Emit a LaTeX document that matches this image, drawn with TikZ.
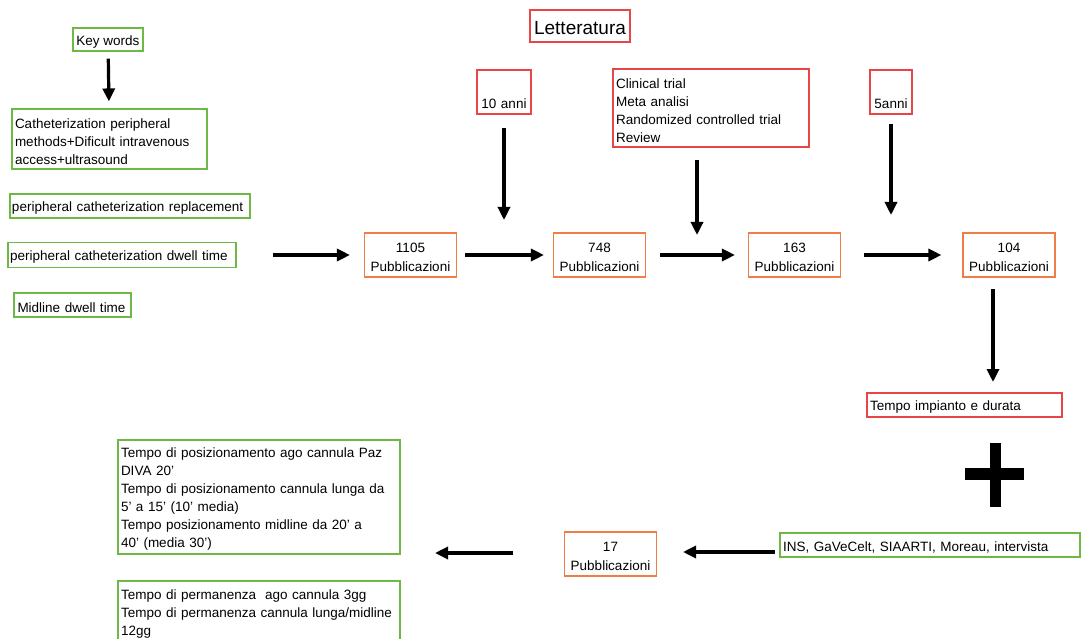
\documentclass[tikz,border=0pt]{standalone}
\usepackage{fontspec}
\setmainfont{Liberation Sans}
\usetikzlibrary{arrows.meta}
\definecolor{cgreen}{RGB}{110,185,70}
\definecolor{cred}{RGB}{232,70,70}
\definecolor{corange}{RGB}{238,125,70}
\begin{document}
\begin{tikzpicture}[x=1pt,y=-1pt,
  box/.style={draw,line width=1.1pt,inner sep=0pt,font=\fontsize{13.5}{18}\selectfont,align=center,text height=14.5pt},
  gbox/.style={box,draw=cgreen},
  rbox/.style={box,draw=cred},
  obox/.style={box,draw=corange,minimum width=92pt,minimum height=44pt,text width=90pt,align=center,font=\fontsize{13.5}{19}\selectfont},
  arr/.style={line width=3.2pt,-{Triangle[length=13pt,width=12pt]}}]
\useasboundingbox[fill=white] (0,0) rectangle (1082,639);

% left column
\node[gbox,minimum width=70pt,minimum height=23pt] (kw) at (108,39.5) {Key words};
\node[gbox,minimum width=195pt,minimum height=60pt,text width=189pt,align=left] (cath) at (109.5,139)
  {Catheterization peripheral\\methods+Dificult intravenous\\access+ultrasound};
\node[gbox,minimum width=240pt,minimum height=24pt,text width=236pt,align=left] (repl) at (130,206)
  {peripheral catheterization replacement};
\node[gbox,minimum width=228pt,minimum height=25pt,text width=224pt,align=left] (dwell) at (122,255)
  {peripheral catheterization dwell time};
\node[gbox,minimum width=117pt,minimum height=24pt,text width=110pt,align=left] (mid) at (72.5,305)
  {Midline dwell time};

% top row
\node[rbox,minimum width=100pt,minimum height=32pt,font=\fontsize{19}{22}\selectfont,text height=17pt] (lett) at (580,26) {Letteratura};
\node[rbox,minimum width=54pt,minimum height=44pt,text width=50pt,align=center] (ten) at (504,92) {\mbox{}\\10 anni};
\node[rbox,minimum width=196pt,minimum height=78pt,text width=190pt,align=left] (clin) at (711,108)
  {Clinical trial\\Meta analisi\\Randomized controlled trial\\Review};
\node[rbox,minimum width=42pt,minimum height=44pt,text width=40pt,align=center] (five) at (891,92) {\mbox{}\\5anni};

% publications row
\node[obox] (p1105) at (410.5,255) {1105\\Pubblicazioni};
\node[obox] (p748) at (599.5,255) {748\\Pubblicazioni};
\node[obox] (p163) at (794.5,255) {163\\Pubblicazioni};
\node[obox] (p104) at (1009,255) {104\\Pubblicazioni};

% right column
\node[rbox,minimum width=195pt,minimum height=24pt,text width=189pt,align=left] (imp) at (964.5,405)
  {Tempo impianto e durata};
\node[gbox,minimum width=300pt,minimum height=24pt,text width=294pt,align=left] (ins) at (930,545)
  {INS, GaVeCelt, SIAARTI, Moreau, intervista};
\node[obox] (p17) at (610.5,554) {17\\Pubblicazioni};

% bottom left
\node[gbox,minimum width=282pt,minimum height=114pt,text width=276pt,align=left] (pos) at (259,497)
  {Tempo di posizionamento ago cannula Paz\\DIVA 20'\\Tempo di posizionamento cannula lunga da\\5' a 15' (10' media)\\Tempo posizionamento midline da 20' a\\40' (media 30')};
\node[gbox,minimum width=282pt,minimum height=76pt,text width=276pt,align=left] (perm) at (259,619)
  {Tempo di permanenza\ \ ago cannula 3gg\\Tempo di permanenza cannula lunga/midline\\12gg\\\mbox{}};

% plus sign
\fill (989.5,443) rectangle (1000.5,507);
\fill (965,468) rectangle (1024,480);

% free arrow ends
\coordinate (a10) at (504,220);
\coordinate (c1) at (697,160);
\coordinate (c2) at (697,235);
\coordinate (a5) at (891,215);
\coordinate (d1) at (993,289);
\coordinate (d2) at (993,382);
\coordinate (e1) at (775,552);
\coordinate (e2) at (683,552);
\coordinate (f1) at (513,553);
\coordinate (f2) at (435,553);

% arrows
\draw[arr,shorten <=7pt,shorten >=7pt] (kw) -- (cath);
\draw[arr,shorten <=36pt,shorten >=14pt] (dwell.east) -- (p1105.west);
\draw[arr,shorten <=8pt,shorten >=9pt] (p1105.east) -- (p748.west);
\draw[arr,shorten <=14pt,shorten >=13pt] (p748.east) -- (p163.west);
\draw[arr,shorten <=23pt,shorten >=21pt] (p163.east) -- (p104.west);
\draw[arr,shorten <=13pt] (ten.south) -- (a10);
\draw[arr] (c1) -- (c2);
\draw[arr,shorten <=9pt] (five.south) -- (a5);
\draw[arr] (d1) -- (d2);
\draw[arr] (e1) -- (e2);
\draw[arr] (f1) -- (f2);
\end{tikzpicture}
\end{document}
